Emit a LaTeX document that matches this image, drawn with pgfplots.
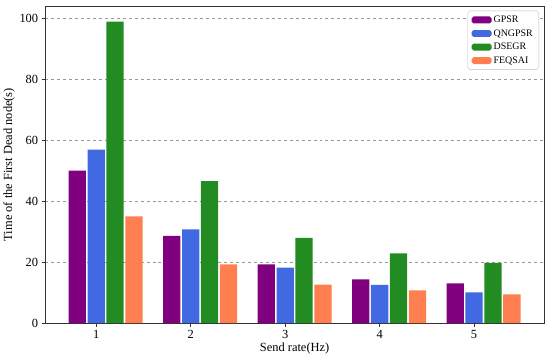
\documentclass[border=0pt]{standalone}
\usepackage{pgfplots}
\pgfplotsset{compat=1.18}
\usepackage{fontspec}
\setmainfont{Liberation Serif}
\definecolor{cGPSR}{RGB}{128,0,128}
\definecolor{cQN}{RGB}{65,105,225}
\definecolor{cDS}{RGB}{34,139,34}
\definecolor{cFE}{RGB}{255,127,80}
\begin{document}
\begin{tikzpicture}
\begin{axis}[
  scale only axis, width=500bp, height=318bp,
  xmin=0.46, xmax=5.74, ymin=0, ymax=104,
  xtick={1,2,3,4,5}, ytick={0,20,40,60,80,100},
  ymajorgrids, grid style={dashed, black!40, line width=0.4pt},
  tick align=outside, tick pos=left, major tick length=3.5bp,
  tick style={black!80, line width=0.8pt},
  axis line style={line width=0.8pt, black!80},
  ylabel={Time of the First Dead node(s)},
  xlabel={Send rate(Hz)},
  ybar, bar width=0.183,
  /pgf/number format/assume math mode=true,
  tick label style={font=\fontsize{12.5}{14}\selectfont},
  label style={font=\fontsize{12.5}{14}\selectfont},
  xlabel style={yshift=3bp},
  ylabel style={yshift=-2bp},
  clip=false,
  legend style={at={(0.99,0.985)}, anchor=north east, font=\fontsize{10}{12}\selectfont,
    draw=black!25, rounded corners=2pt, inner xsep=4bp, inner ysep=3bp,
    row sep=1.5bp, cells={anchor=west}},
  legend image code/.code={\fill[#1] (0bp,-3.5bp) rectangle (20bp,3.5bp);},
]
\addplot[fill=cGPSR, draw=none, bar shift=-0.2] coordinates {(1,50) (2,28.6) (3,19.3) (4,14.4) (5,13.1)};
\addplot[fill=cQN, draw=none, bar shift=0] coordinates {(1,56.9) (2,30.8) (3,18.2) (4,12.6) (5,10.1)};
\addplot[fill=cDS, draw=none, bar shift=0.2] coordinates {(1,98.9) (2,46.6) (3,28.0) (4,22.9) (5,19.8)};
\addplot[fill=cFE, draw=none, bar shift=0.4] coordinates {(1,35) (2,19.3) (3,12.7) (4,10.8) (5,9.5)};
\legend{GPSR,QNGPSR,DSEGR,FEQSAI}
\path[draw=none] ([xshift=-44bp,yshift=-37bp]rel axis cs:0,0) rectangle ([xshift=6bp,yshift=6bp]rel axis cs:1,1);
\end{axis}
\end{tikzpicture}
\end{document}
